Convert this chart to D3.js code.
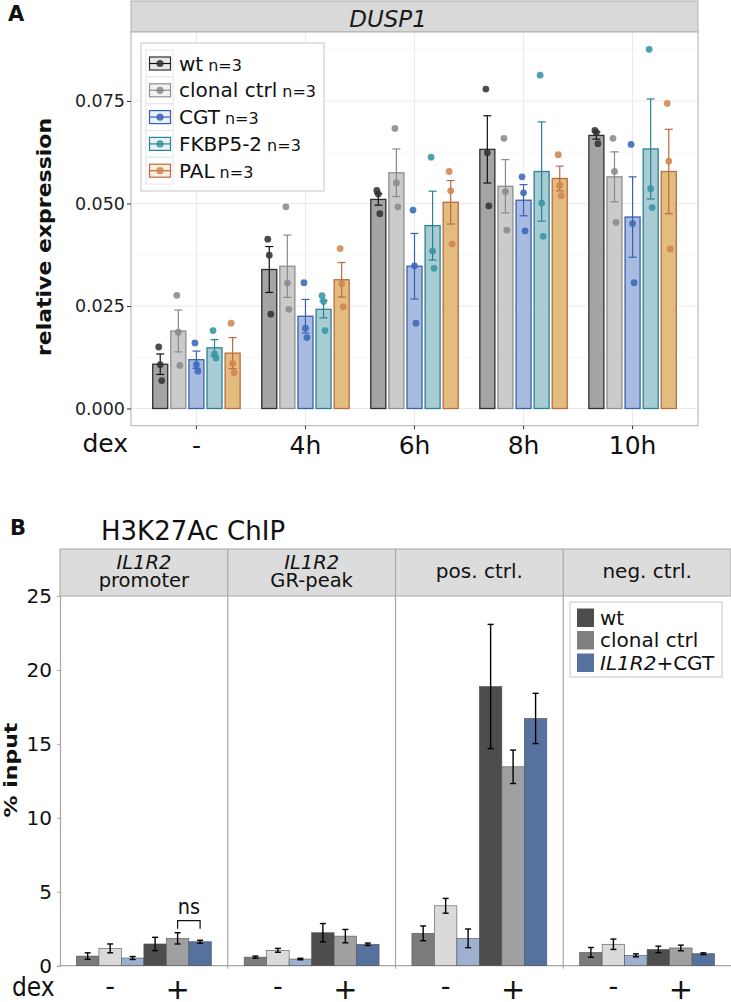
<!DOCTYPE html>
<html><head><meta charset="utf-8">
<script src="https://cdn.jsdelivr.net/npm/d3@7"></script>
<style>body{margin:0;background:#fff} svg{display:block} text{font-family:"DejaVu Sans",sans-serif}</style>
</head><body><svg id="c" width="731" height="1002"></svg>
<script>
// ---------- Panel A data ----------
const timepoints = ["-", "4h", "6h", "8h", "10h"];
const linesA = ["wt", "clonal ctrl", "CGT", "FKBP5-2", "PAL"];
const nA = [3, 3, 3, 3, 3];
const yTicksA = [0, 0.025, 0.05, 0.075];
const meanWt = [0.0108, 0.0339, 0.0510, 0.0632, 0.0666];
const semWt = [0.0025, 0.0056, 0.0014, 0.0082, 0.0009];
const ptsWt = [[0.0150,0.0107,0.0068],[0.0413,0.0374,0.0230],[0.0532,0.0523,0.0475],[0.0779,0.0624,0.0494],[0.0678,0.0673,0.0646]];
const meanClonal = [0.0189, 0.0347, 0.0575, 0.0542, 0.0565];
const semClonal = [0.0051, 0.0076, 0.0058, 0.0065, 0.0061];
const ptsClonal = [[0.0276,0.0186,0.0105],[0.0492,0.0306,0.0242],[0.0683,0.0550,0.0492],[0.0659,0.0529,0.0435],[0.0659,0.0578,0.0454]];
const meanCGT = [0.0119, 0.0225, 0.0347, 0.0508, 0.0467];
const semCGT = [0.0021, 0.0041, 0.0080, 0.0038, 0.0098];
const ptsCGT = [[0.0160,0.0107,0.0091],[0.0307,0.0196,0.0173],[0.0484,0.0348,0.0208],[0.0565,0.0526,0.0433],[0.0644,0.0451,0.0307]];
const meanFKBP = [0.0148, 0.0242, 0.0446, 0.0578, 0.0633];
const semFKBP = [0.0020, 0.0021, 0.0084, 0.0121, 0.0122];
const ptsFKBP = [[0.0190,0.0133,0.0123],[0.0275,0.0261,0.0190],[0.0613,0.0384,0.0342],[0.0813,0.0501,0.0420],[0.0876,0.0536,0.0490]];
const meanPAL = [0.0135, 0.0314, 0.0503, 0.0561, 0.0578];
const semPAL = [0.0038, 0.0042, 0.0053, 0.0030, 0.0103];
const ptsPAL = [[0.0208,0.0110,0.0087],[0.0390,0.0304,0.0248],[0.0578,0.0531,0.0401],[0.0619,0.0544,0.0519],[0.0744,0.0603,0.0389]];

// ---------- Panel B data ----------
const regions = ["IL1R2 promoter", "IL1R2 GR-peak", "pos. ctrl.", "neg. ctrl."];
const dexLevels = ["-", "+"];
const linesB = ["wt", "clonal ctrl", "IL1R2+CGT"];
const yTicksB = [0, 5, 10, 15, 20, 25];
const wtMinus = [0.65, 0.58, 2.19, 0.90];
const wtMinusErr = [0.22, 0.07, 0.50, 0.33];
const clonalMinus = [1.17, 1.04, 4.05, 1.45];
const clonalMinusErr = [0.30, 0.13, 0.50, 0.35];
const cgtMinus = [0.52, 0.45, 1.85, 0.70];
const cgtMinusErr = [0.10, 0.05, 0.63, 0.10];
const wtPlus = [1.47, 2.23, 18.88, 1.10];
const wtPlusErr = [0.45, 0.62, 4.20, 0.22];
const clonalPlus = [1.85, 2.00, 13.45, 1.20];
const clonalPlusErr = [0.38, 0.45, 1.13, 0.19];
const cgtPlus = [1.62, 1.45, 16.72, 0.81];
const cgtPlusErr = [0.10, 0.08, 1.70, 0.06];

// ---------- drawing ----------
const svg = d3.select("#c");
function txt(parent, x, y, s, o) {
  o = o || {};
  let tr = `translate(${x},${y})`;
  if (o.sx) tr += ` scale(${o.sx},1)`;
  if (o.rot) tr += ` rotate(${o.rot})`;
  return parent.append("text").attr("transform", tr)
    .attr("font-size", o.size || 16).attr("font-weight", o.weight || "normal")
    .attr("font-style", o.style || "normal").attr("text-anchor", o.anchor || "start")
    .attr("fill", o.fill || "#111").text(s);
}

// ===== Panel A =====
const seriesA = [
  {name: linesA[0], n: nA[0], mean: meanWt, sem: semWt, pts: ptsWt, fill: "#a4a4a4", stroke: "#2e2e2e", pt: "#333333", err: "#111111"},
  {name: linesA[1], n: nA[1], mean: meanClonal, sem: semClonal, pts: ptsClonal, fill: "#cbcbcb", stroke: "#8e8e8e", pt: "#8a8a8a", err: "#8a8a8a"},
  {name: linesA[2], n: nA[2], mean: meanCGT, sem: semCGT, pts: ptsCGT, fill: "#a8bbe0", stroke: "#3a61ab", pt: "#3a68b8", err: "#3a61ab"},
  {name: linesA[3], n: nA[3], mean: meanFKBP, sem: semFKBP, pts: ptsFKBP, fill: "#a7ccd3", stroke: "#2a8393", pt: "#3595a4", err: "#2a8393"},
  {name: linesA[4], n: nA[4], mean: meanPAL, sem: semPAL, pts: ptsPAL, fill: "#e3bc80", stroke: "#bd6a3f", pt: "#d0844f", err: "#bd6a3f"}
];
const PA = {l: 131, r: 698, t: 32, b: 425.7};
const xA = d3.scalePoint().domain(timepoints).range([PA.l, PA.r]).padding(0.6);
const xInA = d3.scaleBand().domain(linesA).range([-45.25, 45.25]);
const barWA = xInA.bandwidth() * 0.83;
const yA = d3.scaleLinear().domain([0, 0.075]).range([408.5, 101]);

const gA = svg.append("g");
gA.append("rect").attr("x", PA.l).attr("y", 1).attr("width", PA.r - PA.l).attr("height", PA.t - 1)
  .attr("fill", "#d9d9d9").attr("stroke", "#b0b0b0");
txt(gA, 388, 27, "DUSP1", {size: 23, style: "italic", anchor: "middle", fill: "#1a1a1a"});
gA.append("rect").attr("x", PA.l).attr("y", PA.t).attr("width", PA.r - PA.l).attr("height", PA.b - PA.t).attr("fill", "#fff");
// grid
const minorA = [0.0125, 0.0375, 0.0625, 0.0875];
gA.selectAll(".gmin").data(minorA).join("line").attr("x1", PA.l).attr("x2", PA.r)
  .attr("y1", d => yA(d)).attr("y2", d => yA(d)).attr("stroke", "#f4f4f4").attr("stroke-width", 0.7);
gA.selectAll(".gmaj").data(yTicksA).join("line").attr("x1", PA.l).attr("x2", PA.r)
  .attr("y1", d => yA(d)).attr("y2", d => yA(d)).attr("stroke", "#ebebeb").attr("stroke-width", 1.1);
gA.selectAll(".gx").data(timepoints).join("line").attr("y1", PA.t).attr("y2", PA.b)
  .attr("x1", d => xA(d)).attr("x2", d => xA(d)).attr("stroke", "#ebebeb").attr("stroke-width", 1.1);

seriesA.forEach(s => {
  const g = gA.append("g");
  const bx = i => xA(timepoints[i]) + xInA(s.name) + (xInA.bandwidth() - barWA) / 2;
  const cx = i => xA(timepoints[i]) + xInA(s.name) + xInA.bandwidth() / 2;
  g.selectAll("rect").data(s.mean).join("rect")
    .attr("x", (d, i) => bx(i)).attr("width", barWA)
    .attr("y", d => yA(d)).attr("height", d => yA(0) - yA(d))
    .attr("fill", s.fill).attr("stroke", s.stroke).attr("stroke-width", 1.3);
  s.mean.forEach((m, i) => {
    const x = cx(i), y1 = yA(m - s.sem[i]), y2 = yA(m + s.sem[i]);
    g.append("line").attr("x1", x).attr("x2", x).attr("y1", y1).attr("y2", y2).attr("stroke", s.err).attr("stroke-width", 1.2);
    [y1, y2].forEach(yy => g.append("line").attr("x1", x - 4).attr("x2", x + 4).attr("y1", yy).attr("y2", yy).attr("stroke", s.err).attr("stroke-width", 1.2));
    s.pts[i].forEach((p, j) => {
      g.append("circle").attr("cx", x + (j - 1) * 1.5).attr("cy", yA(p)).attr("r", 3.4)
        .attr("fill", s.pt).attr("fill-opacity", 0.88);
    });
  });
});
gA.append("rect").attr("x", PA.l).attr("y", PA.t).attr("width", PA.r - PA.l).attr("height", PA.b - PA.t)
  .attr("fill", "none").attr("stroke", "#b0b0b0");

// y axis A
const axA = gA.append("g").attr("transform", `translate(${PA.l},0)`)
  .call(d3.axisLeft(yA).tickValues(yTicksA).tickFormat(d3.format(".3f")).tickSize(4).tickPadding(2));
axA.select(".domain").remove();
axA.selectAll("line").attr("stroke", "#333");
axA.selectAll("text").attr("font-size", 17.5).attr("fill", "#222").attr("font-family", "DejaVu Sans");
// x ticks A
gA.selectAll(".xt").data(timepoints).join("line").attr("x1", d => xA(d)).attr("x2", d => xA(d))
  .attr("y1", PA.b).attr("y2", PA.b + 3.5).attr("stroke", "#333");
timepoints.forEach(t => txt(gA, xA(t), 454, t, {size: 25, anchor: "middle"}));
txt(gA, 128, 452, "dex", {size: 25, anchor: "end"});
txt(gA, 51, 237, "relative expression", {size: 22, weight: "bold", anchor: "middle", rot: -90, sx: 0.85});
txt(gA, 8, 21, "A", {size: 21, weight: "bold"});

// legend A
const lg = gA.append("g");
lg.append("rect").attr("x", 141).attr("y", 43).attr("width", 183).attr("height", 148)
  .attr("fill", "#fff").attr("stroke", "#cfcfcf").attr("stroke-width", 1.2);
seriesA.forEach((s, i) => {
  const cy = 63.5 + i * 26.8;
  lg.append("rect").attr("x", 146).attr("y", cy - 13.4).attr("width", 27).attr("height", 26.8)
    .attr("fill", "#fff").attr("stroke", "#e4e4e4");
  lg.append("rect").attr("x", 149.5).attr("y", cy - 6.5).attr("width", 21).attr("height", 13)
    .attr("fill", s.fill).attr("fill-opacity", 0.25).attr("stroke", s.stroke).attr("stroke-width", 1.2);
  lg.append("line").attr("x1", 149.5).attr("x2", 170.5).attr("y1", cy).attr("y2", cy).attr("stroke", s.err).attr("stroke-width", 1.2);
  lg.append("circle").attr("cx", 160).attr("cy", cy).attr("r", 3.6).attr("fill", s.pt).attr("fill-opacity", 0.88);
  const t = lg.append("text").attr("x", 179).attr("y", cy + 7).attr("font-size", 20).attr("fill", "#111");
  t.append("tspan").text(s.name);
  t.append("tspan").attr("dx", 5).attr("font-size", 16).text("n=" + s.n);
});

// ===== Panel B =====
const PB = {l: 60, r: 731, stripT: 549, t: 596};
const yB = d3.scaleLinear().domain([0, 25]).range([965.7, PB.t]);
const xB = d3.scaleBand().domain(regions).range([PB.l, PB.r]);
const condKeys = ["wt-", "clonal-", "cgt-", "wt+", "clonal+", "cgt+"];
const xInB = d3.scaleBand().domain(condKeys).range([0, xB.bandwidth()]).paddingOuter(0.73);
const seriesB = [
  {key: "wt-", v: wtMinus, e: wtMinusErr, fill: "#7b7b7b"},
  {key: "clonal-", v: clonalMinus, e: clonalMinusErr, fill: "#dadada"},
  {key: "cgt-", v: cgtMinus, e: cgtMinusErr, fill: "#9eb0cf"},
  {key: "wt+", v: wtPlus, e: wtPlusErr, fill: "#4d4d4d"},
  {key: "clonal+", v: clonalPlus, e: clonalPlusErr, fill: "#a0a0a0"},
  {key: "cgt+", v: cgtPlus, e: cgtPlusErr, fill: "#56719d"}
];
const gB = svg.append("g");
txt(gB, 10, 535, "B", {size: 21, weight: "bold"});
txt(gB, 101, 540, "H3K27Ac ChIP", {size: 26, fill: "#111"});
gB.append("rect").attr("x", PB.l).attr("y", PB.stripT).attr("width", PB.r - PB.l).attr("height", PB.t - PB.stripT)
  .attr("fill", "#dcdcdc").attr("stroke", "#a8a8a8");
regions.forEach((r, i) => {
  const cx = xB(r) + xB.bandwidth() / 2;
  if (r.startsWith("IL1R2")) {
    const t = gB.append("text").attr("font-size", 19.5).attr("text-anchor", "middle").attr("fill", "#111");
    t.append("tspan").attr("x", cx).attr("y", 569).attr("font-style", "italic").text("IL1R2");
    t.append("tspan").attr("x", cx).attr("y", 587).text(r.replace("IL1R2 ", ""));
  } else {
    txt(gB, cx, 578, r, {size: 20, anchor: "middle"});
  }
});
// dividers
regions.slice(1).forEach(r => {
  gB.append("line").attr("x1", xB(r)).attr("x2", xB(r)).attr("y1", PB.stripT).attr("y2", yB(0) + 3)
    .attr("stroke", "#a8a8a8").attr("stroke-width", 1.2);
});
gB.append("line").attr("x1", PB.l).attr("x2", PB.r).attr("y1", yB(0)).attr("y2", yB(0)).attr("stroke", "#a8a8a8").attr("stroke-width", 1.2);
// bars
seriesB.forEach(s => {
  const g = gB.append("g");
  g.selectAll("rect").data(s.v).join("rect")
    .attr("x", (d, i) => xB(regions[i]) + xInB(s.key)).attr("width", xInB.bandwidth())
    .attr("y", d => yB(d)).attr("height", d => yB(0) - yB(d))
    .attr("fill", s.fill).attr("stroke", "#555").attr("stroke-width", 0.6);
  s.v.forEach((v, i) => {
    const x = xB(regions[i]) + xInB(s.key) + xInB.bandwidth() / 2;
    const y1 = yB(v - s.e[i]), y2 = yB(v + s.e[i]);
    g.append("line").attr("x1", x).attr("x2", x).attr("y1", y1).attr("y2", y2).attr("stroke", "#000").attr("stroke-width", 1.4);
    [y1, y2].forEach(yy => g.append("line").attr("x1", x - 3).attr("x2", x + 3).attr("y1", yy).attr("y2", yy).attr("stroke", "#000").attr("stroke-width", 1.4));
  });
});
// y axis B
const axB = gB.append("g").attr("transform", `translate(${PB.l},0)`)
  .call(d3.axisLeft(yB).tickValues(yTicksB).tickSize(3).tickPadding(5));
axB.select(".domain").attr("stroke", "#a8a8a8").attr("stroke-width", 1.2);
axB.selectAll("line").attr("stroke", "#a8a8a8");
axB.selectAll("text").attr("font-size", 20).attr("fill", "#111").attr("font-family", "DejaVu Sans");
txt(gB, 17, 770, "% input", {size: 22, weight: "bold", anchor: "middle", rot: -90, sx: 0.8});
// dex labels
txt(gB, 12, 996, "dex", {size: 26, anchor: "start", sx: 0.9});
regions.forEach(r => {
  const c1 = xB(r) + (xInB(condKeys[0]) + xInB(condKeys[2]) + xInB.bandwidth()) / 2;
  const c2 = xB(r) + (xInB(condKeys[3]) + xInB(condKeys[5]) + xInB.bandwidth()) / 2;
  txt(gB, c1, 995, dexLevels[0], {size: 27, anchor: "middle"});
  txt(gB, c2, 999, dexLevels[1], {size: 29, anchor: "middle"});
});
// ns bracket
{
  const r = regions[0];
  const xa = xB(r) + xInB("clonal+") + xInB.bandwidth() / 2;
  const xb = xB(r) + xInB("cgt+") + xInB.bandwidth() / 2;
  const yl = yB(clonalPlus[0] + clonalPlusErr[0]) - 4;
  const yt = yl - 8;
  gB.append("path").attr("d", `M${xa},${yl}V${yt}H${xb}V${yl}`).attr("fill", "none").attr("stroke", "#111").attr("stroke-width", 1.2);
  txt(gB, (xa + xb) / 2, yt - 7, "ns", {size: 21, anchor: "middle", sx: 0.92});
}
// legend B
const lgB = gB.append("g");
lgB.append("rect").attr("x", 570).attr("y", 602).attr("width", 152).attr("height", 75)
  .attr("fill", "#fff").attr("stroke", "#cfcfcf").attr("stroke-width", 1.2);
const legColB = ["#4d4d4d", "#808080", "#56719d"];
linesB.forEach((nm, i) => {
  const y0 = 608.5 + i * 22.5;
  lgB.append("rect").attr("x", 577).attr("y", y0).attr("width", 17).attr("height", 18.5).attr("fill", legColB[i]);
  const t = lgB.append("text").attr("x", 600).attr("y", y0 + 16).attr("font-size", 20).attr("fill", "#111");
  if (nm.startsWith("IL1R2")) {
    t.append("tspan").attr("font-style", "italic").text("IL1R2");
    t.append("tspan").text(nm.replace("IL1R2", ""));
  } else t.text(nm);
});
</script></body></html>
